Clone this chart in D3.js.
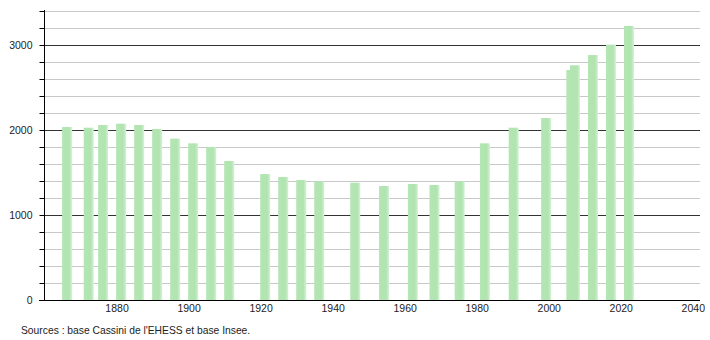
<!DOCTYPE html>
<html><head><meta charset="utf-8">
<script src="https://cdn.jsdelivr.net/npm/d3@7"></script>
<style>body{margin:0;background:#fff}svg{display:block}</style>
</head><body>
<script>
const years = [1866,1872,1876,1881,1886,1891,1896,1901,1906,1911,1921,1926,1931,1936,1946,1954,1962,1968,1975,1982,1990,1999,2006,2007,2012,2017,2022];
const population = [2035,2027,2059,2074,2059,2012,1898,1843,1800,1635,1482,1447,1412,1396,1380,1341,1365,1353,1396,1843,2027,2141,2706,2761,2882,3004,3224];
const xTicks = [1880,1900,1920,1940,1960,1980,2000,2020,2040];
const yLabelTicks = [0,1000,2000,3000];
const yGridTicks = [200,400,600,800,1000,1200,1400,1600,1800,2000,2200,2400,2600,2800,3000,3200,3400];
const sourceText = "Sources : base Cassini de l'EHESS et base Insee.";

const W = 710, H = 340;
const svg = d3.select("body").append("svg").attr("width", W).attr("height", H);
const x = d3.scaleLinear().domain([1860, 2042]).range([44.5, 700]);
const y = d3.scaleLinear().domain([0, 3400]).range([300, 11]);
const font = "Liberation Sans, Arial, sans-serif";

const defs = svg.append("defs");
const grad = defs.append("linearGradient").attr("id", "bg").attr("x1", 0).attr("x2", 1).attr("y1", 0).attr("y2", 0);
grad.append("stop").attr("offset", "0%").attr("stop-color", "#b4e6b4");
grad.append("stop").attr("offset", "70%").attr("stop-color", "#b0e4b0");
grad.append("stop").attr("offset", "100%").attr("stop-color", "#d6f1d6");

// grid
svg.append("g").selectAll("line").data(yGridTicks).join("line")
  .attr("x1", 44).attr("x2", 700)
  .attr("y1", d => Math.round(y(d)) + 0.5).attr("y2", d => Math.round(y(d)) + 0.5)
  .attr("stroke", d => d % 1000 === 0 ? "#333" : "#c8c8c8")
  .attr("stroke-width", 1);

// bars
svg.append("g").selectAll("rect").data(years).join("rect")
  .attr("x", d => x(d) - 4)
  .attr("width", 10)
  .attr("y", (d, i) => y(population[i]))
  .attr("height", (d, i) => y(0) - y(population[i]))
  .attr("fill", "url(#bg)");

// left axis
const yAxis = d3.axisLeft(y).tickValues([0].concat(yGridTicks)).tickSize(5).tickFormat(d => yLabelTicks.includes(d) ? d : "");
const gy = svg.append("g").attr("transform", "translate(44.5,0)").call(yAxis);
gy.select(".domain").attr("d", "M0,10V300").attr("stroke", "#000");
gy.selectAll(".tick line").attr("stroke", "#000");
gy.selectAll(".tick text").attr("x", -12).attr("font-family", font).attr("font-size", 10.5).attr("fill", "#222");

// bottom axis
const xAxis = d3.axisBottom(x).tickValues(xTicks).tickSize(0).tickFormat(d3.format("d"));
const gx = svg.append("g").attr("transform", "translate(0,300.5)").call(xAxis);
gx.select(".domain").attr("d", "M39,0H700").attr("stroke", "#000");
gx.selectAll(".tick text").attr("dy", "0.71em").attr("y", 4).attr("font-family", font).attr("font-size", 10.5).attr("fill", "#222");

svg.append("text").attr("x", 21).attr("y", 334).attr("font-family", font).attr("font-size", 10.3).attr("fill", "#222").text(sourceText);
</script>
</body></html>
